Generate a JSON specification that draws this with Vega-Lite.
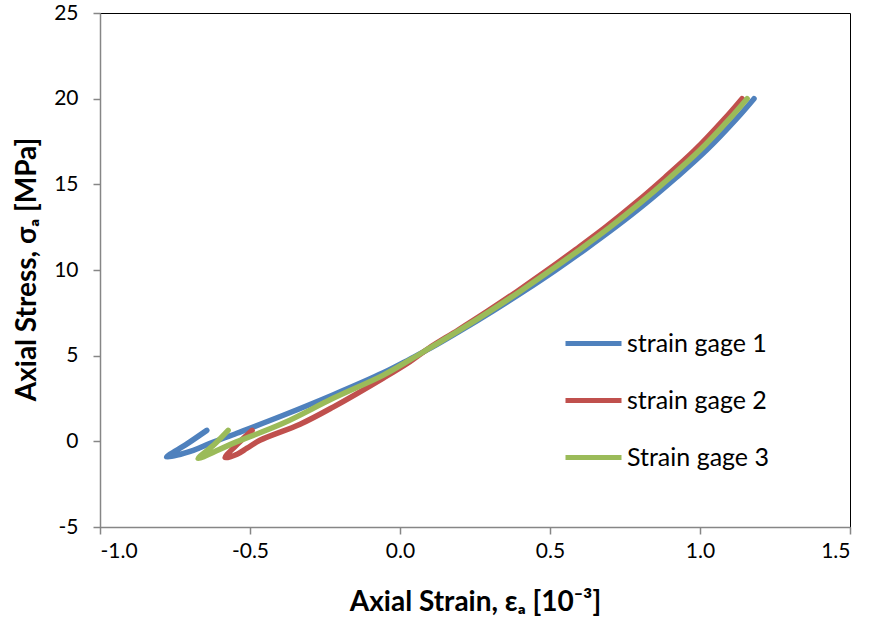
{
  "$schema": "https://vega.github.io/schema/vega-lite/v6.json",
  "width": 750,
  "height": 514,
  "padding": {"left": 100, "top": 13, "right": 20, "bottom": 102},
  "autosize": {"type": "none"},
  "background": "white",
  "config": {
    "font": "Lato",
    "view": {"stroke": "#000", "strokeWidth": 1},
    "axis": {
      "grid": false,
      "domainColor": "#868686",
      "domainWidth": 1.5,
      "tickColor": "#868686",
      "tickWidth": 1.5,
      "tickSize": 7,
      "labelFontSize": 21,
      "labelColor": "#000",
      "labelFont": "Lato",
      "titleFont": "Lato",
      "titleFontSize": 28,
      "titleFontWeight": "bold",
      "titleColor": "#000"
    }
  },
  "data": {
    "values": [
      {"gage": "strain gage 1", "o": 1, "x": -0.644, "y": 0.64},
      {"gage": "strain gage 1", "o": 2, "x": -0.71, "y": -0.15},
      {"gage": "strain gage 1", "o": 3, "x": -0.778, "y": -0.92},
      {"gage": "strain gage 1", "o": 4, "x": -0.689, "y": -0.53},
      {"gage": "strain gage 1", "o": 5, "x": -0.633, "y": -0.12},
      {"gage": "strain gage 1", "o": 6, "x": -0.544, "y": 0.47},
      {"gage": "strain gage 1", "o": 7, "x": -0.389, "y": 1.52},
      {"gage": "strain gage 1", "o": 8, "x": -0.222, "y": 2.72},
      {"gage": "strain gage 1", "o": 9, "x": -0.056, "y": 4.0},
      {"gage": "strain gage 1", "o": 10, "x": 0.033, "y": 4.8},
      {"gage": "strain gage 1", "o": 11, "x": 0.103, "y": 5.45},
      {"gage": "strain gage 1", "o": 12, "x": 0.206, "y": 6.5},
      {"gage": "strain gage 1", "o": 13, "x": 0.309, "y": 7.6},
      {"gage": "strain gage 1", "o": 14, "x": 0.412, "y": 8.75},
      {"gage": "strain gage 1", "o": 15, "x": 0.515, "y": 9.95},
      {"gage": "strain gage 1", "o": 16, "x": 0.617, "y": 11.2},
      {"gage": "strain gage 1", "o": 17, "x": 0.718, "y": 12.5},
      {"gage": "strain gage 1", "o": 18, "x": 0.82, "y": 13.9},
      {"gage": "strain gage 1", "o": 19, "x": 0.921, "y": 15.4},
      {"gage": "strain gage 1", "o": 20, "x": 1.022, "y": 17.0},
      {"gage": "strain gage 1", "o": 21, "x": 1.123, "y": 18.85},
      {"gage": "strain gage 1", "o": 22, "x": 1.18, "y": 20.0},

      {"gage": "strain gage 2", "o": 1, "x": -0.493, "y": 0.64},
      {"gage": "strain gage 2", "o": 2, "x": -0.55, "y": -0.3},
      {"gage": "strain gage 2", "o": 3, "x": -0.583, "y": -0.95},
      {"gage": "strain gage 2", "o": 4, "x": -0.543, "y": -0.75},
      {"gage": "strain gage 2", "o": 5, "x": -0.51, "y": -0.4},
      {"gage": "strain gage 2", "o": 6, "x": -0.467, "y": 0.06},
      {"gage": "strain gage 2", "o": 7, "x": -0.333, "y": 1.0},
      {"gage": "strain gage 2", "o": 8, "x": -0.223, "y": 2.0},
      {"gage": "strain gage 2", "o": 9, "x": -0.057, "y": 3.68},
      {"gage": "strain gage 2", "o": 10, "x": 0.033, "y": 4.65},
      {"gage": "strain gage 2", "o": 11, "x": 0.097, "y": 5.45},
      {"gage": "strain gage 2", "o": 12, "x": 0.194, "y": 6.5},
      {"gage": "strain gage 2", "o": 13, "x": 0.292, "y": 7.6},
      {"gage": "strain gage 2", "o": 14, "x": 0.39, "y": 8.75},
      {"gage": "strain gage 2", "o": 15, "x": 0.488, "y": 9.95},
      {"gage": "strain gage 2", "o": 16, "x": 0.586, "y": 11.2},
      {"gage": "strain gage 2", "o": 17, "x": 0.685, "y": 12.5},
      {"gage": "strain gage 2", "o": 18, "x": 0.784, "y": 13.9},
      {"gage": "strain gage 2", "o": 19, "x": 0.883, "y": 15.4},
      {"gage": "strain gage 2", "o": 20, "x": 0.983, "y": 17.0},
      {"gage": "strain gage 2", "o": 21, "x": 1.083, "y": 18.85},
      {"gage": "strain gage 2", "o": 22, "x": 1.14, "y": 20.0},

      {"gage": "Strain gage 3", "o": 1, "x": -0.573, "y": 0.64},
      {"gage": "Strain gage 3", "o": 2, "x": -0.62, "y": -0.2},
      {"gage": "Strain gage 3", "o": 3, "x": -0.673, "y": -1.0},
      {"gage": "Strain gage 3", "o": 4, "x": -0.557, "y": -0.12},
      {"gage": "Strain gage 3", "o": 5, "x": -0.39, "y": 1.05},
      {"gage": "Strain gage 3", "o": 6, "x": -0.223, "y": 2.51},
      {"gage": "Strain gage 3", "o": 7, "x": -0.057, "y": 3.85},
      {"gage": "Strain gage 3", "o": 8, "x": 0.033, "y": 4.75},
      {"gage": "Strain gage 3", "o": 9, "x": 0.1, "y": 5.45},
      {"gage": "Strain gage 3", "o": 10, "x": 0.2, "y": 6.5},
      {"gage": "Strain gage 3", "o": 11, "x": 0.3, "y": 7.6},
      {"gage": "Strain gage 3", "o": 12, "x": 0.4, "y": 8.75},
      {"gage": "Strain gage 3", "o": 13, "x": 0.5, "y": 9.95},
      {"gage": "Strain gage 3", "o": 14, "x": 0.6, "y": 11.2},
      {"gage": "Strain gage 3", "o": 15, "x": 0.7, "y": 12.5},
      {"gage": "Strain gage 3", "o": 16, "x": 0.8, "y": 13.9},
      {"gage": "Strain gage 3", "o": 17, "x": 0.9, "y": 15.4},
      {"gage": "Strain gage 3", "o": 18, "x": 1.0, "y": 17.0},
      {"gage": "Strain gage 3", "o": 19, "x": 1.1, "y": 18.85},
      {"gage": "Strain gage 3", "o": 20, "x": 1.157, "y": 20.0}
    ]
  },
  "mark": {"type": "line", "strokeWidth": 5.5, "strokeCap": "round", "strokeJoin": "round", "interpolate": "catmull-rom"},
  "encoding": {
    "x": {
      "field": "x", "type": "quantitative",
      "scale": {"domain": [-1.0, 1.5], "nice": false, "zero": false},
      "axis": {"values": [-1.0, -0.5, 0.0, 0.5, 1.0, 1.5], "labelExpr": "datum.value < 0 ? '-' + format(-datum.value, '.1f') : format(datum.value, '.1f')", "labelPadding": 6, "title": "Axial Strain, εₐ [10⁻³]", "titlePadding": 27}
    },
    "y": {
      "field": "y", "type": "quantitative",
      "scale": {"domain": [-5, 25], "nice": false, "zero": false},
      "axis": {"values": [-5, 0, 5, 10, 15, 20, 25], "labelExpr": "datum.value < 0 ? '-' + format(-datum.value, 'd') : format(datum.value, 'd')", "labelPadding": 15, "title": "Axial Stress, σₐ [MPa]", "titlePadding": 12, "titleY": 256}
    },
    "color": {
      "field": "gage", "type": "nominal",
      "scale": {"domain": ["strain gage 1", "strain gage 2", "Strain gage 3"], "range": ["#4F81BD", "#C0504D", "#9BBB59"]},
      "legend": {
        "title": null,
        "orient": "none",
        "legendX": 463,
        "legendY": 300,
        "symbolType": "stroke",
        "symbolSize": 3136,
        "symbolStrokeWidth": 5,
        "labelFontSize": 25,
        "labelColor": "#000",
        "labelFont": "Lato",
        "rowPadding": 13,
        "labelOffset": 3
      }
    },
    "order": {"field": "o", "type": "quantitative"}
  }
}
